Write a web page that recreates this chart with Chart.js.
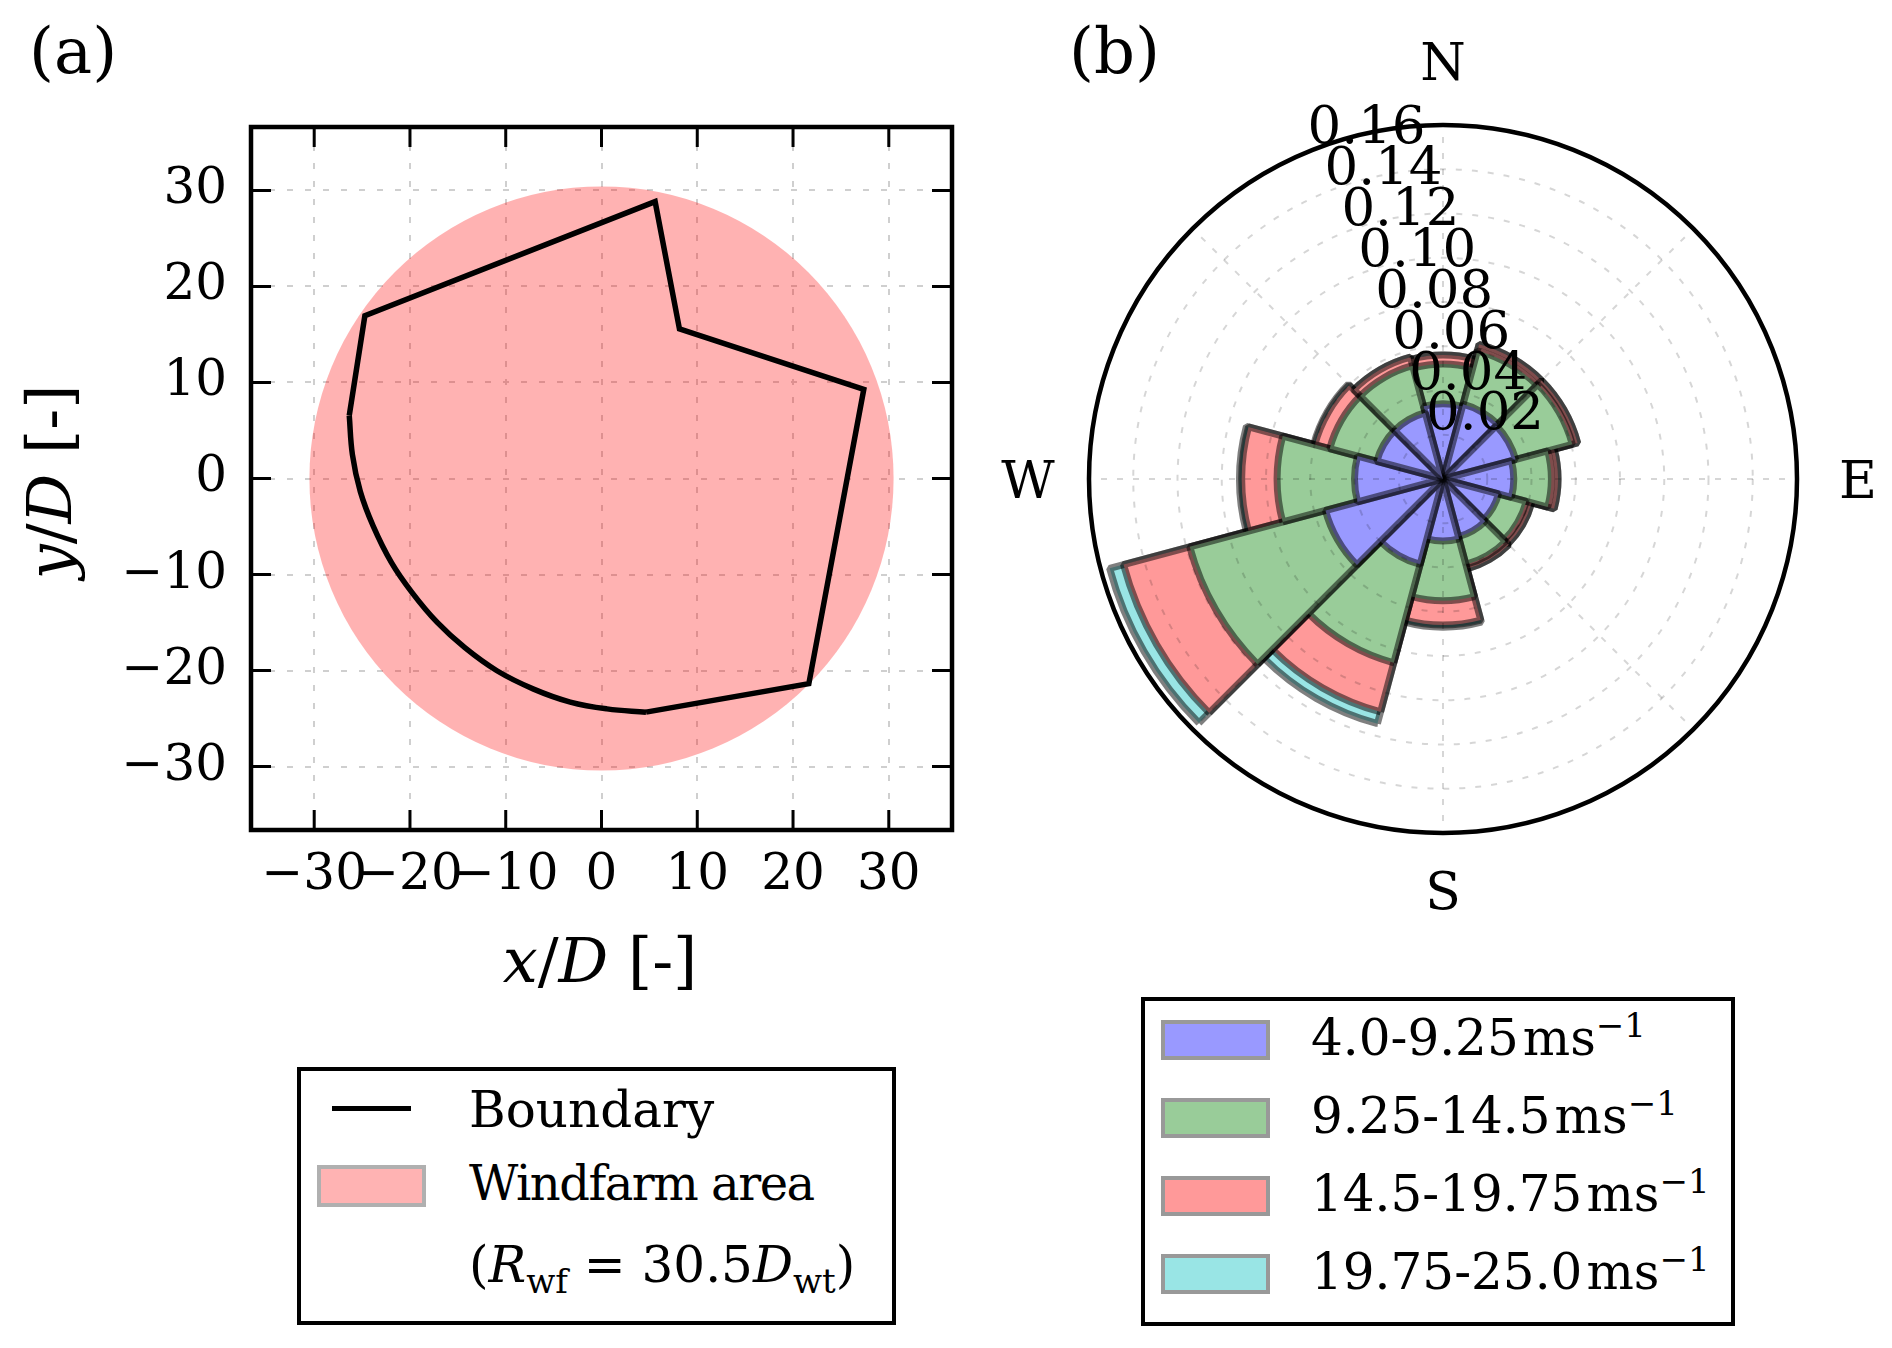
<!DOCTYPE html>
<html>
<head>
<meta charset="utf-8">
<script src="https://cdn.jsdelivr.net/npm/chart.js@4.4.1/dist/chart.umd.min.js"></script>
<style>
  html, body { margin: 0; padding: 0; background: #fff; }
  #page { position: relative; width: 1892px; height: 1348px; overflow: hidden; font-family: 'DejaVu Serif', serif; color: #000; }
  canvas { position: absolute; }
  .txt { position: absolute; white-space: nowrap; line-height: 1; }
  .box { position: absolute; box-sizing: border-box; border: 4.5px solid #000; }
  .patch { position: absolute; box-sizing: border-box; border: 4px solid #999; }
  sub, sup { font-size: 0.68em; line-height: 0; }
</style>
</head>
<body>
<div id="page">
  <div class="txt" style="left:29px;top:19px;font-size:64px">(a)</div>
  <div class="txt" style="left:1069px;top:19px;font-size:64px">(b)</div>

  <canvas id="boundaryChart" width="1000" height="1000" style="left:0;top:0"></canvas>
  <canvas id="roseChart" width="932" height="960" style="left:960px;top:0"></canvas>

  <!-- axis titles of (a) -->
  <div class="txt" style="left:400px;width:400px;text-align:center;top:930px;font-size:62px"><i>x</i>/<i>D</i> [-]</div>
  <div class="txt" style="left:-150px;width:400px;text-align:center;top:451px;font-size:62px;transform:rotate(-90deg)"><i>y</i>/<i>D</i> [-]</div>

  <!-- legend (a) -->
  <div class="box" style="left:297px;top:1067px;width:599px;height:258px"></div>
  <div style="position:absolute;left:332px;top:1106px;width:79px;height:5px;background:#000"></div>
  <div class="txt" style="left:469px;top:1085px;font-size:50px">Boundary</div>
  <div class="patch" style="left:317px;top:1165px;width:109px;height:42px;background:#ffb3b3;border-color:#b0b0b0"></div>
  <div class="txt" style="left:469px;top:1159px;font-size:48px;letter-spacing:-1.5px">Windfarm area</div>
  <div class="txt" style="left:469px;top:1240px;font-size:50px">(<i>R</i><sub>wf</sub> = 30.5<i>D</i><sub>wt</sub>)</div>

  <!-- legend (b) -->
  <div class="box" style="left:1141px;top:997px;width:594px;height:329px"></div>
  <div id="legendB"></div>
</div>

<script>
// ---- (a) windfarm boundary, in rotor diameters ----
const windfarmRadius = 30.5;
const axisLimit = 36.6;
const xTicks = [-30, -20, -10, 0, 10, 20, 30];
const yTicks = [-30, -20, -10, 0, 10, 20, 30];

// straight edges: from the bottom corner round the right side to the west corner
const edgeX = [4.65, 21.65, 27.39, 8.14, 5.6, -24.71, -26.34];
const edgeY = [-24.33, -21.36, 9.29, 15.57, 28.83, 16.95, 6.56];
// curved south-west part of the boundary
const arcX = [4.65, 0.57, -3.26, -7.09, -10.92, -14.27, -17.15, -19.78, -21.93, -23.85, -25.19, -26.01, -26.34];
const arcY = [-24.33, -23.99, -23.28, -21.93, -20.02, -17.62, -14.99, -11.88, -8.76, -4.93, -1.34, 2.49, 6.56];

// ---- (b) wind rose, frequency per sector and speed bin ----
const directions = ['N', 'NNE', 'ENE', 'E', 'ESE', 'SSE', 'S', 'SSW', 'WSW', 'W', 'WNW', 'NNW'];
const freqLow  = [0.034, 0.035, 0.034, 0.032, 0.026, 0.027, 0.028, 0.040, 0.055, 0.040, 0.031, 0.031];
const freqMid  = [0.018, 0.025, 0.0265, 0.017, 0.013, 0.013, 0.027, 0.046, 0.0635, 0.035, 0.022, 0.022];
const freqHigh = [0.004, 0.003, 0.0025, 0.003, 0.0025, 0.002, 0.011, 0.023, 0.031, 0.016, 0.007, 0.004];
const freqTop  = [0, 0, 0, 0, 0, 0, 0.001, 0.0055, 0.0065, 0.001, 0.0005, 0];
const speedBins = ['4.0-9.25', '9.25-14.5', '14.5-19.75', '19.75-25.0'];
const binColors = ['#9999ff', '#99cc99', '#ff9999', '#99e5e5'];
const rTicks = [0.02, 0.04, 0.06, 0.08, 0.10, 0.12, 0.14, 0.16];
const rMax = 0.16;
const compass = ['N', 'E', 'S', 'W'];

Chart.defaults.font.family = "'DejaVu Serif', serif";
Chart.defaults.color = '#000';

const fmt = v => String(v).replace('-', '\u2212');

// frame and inward ticks on all four sides
const axesFrame = {
  id: 'axesFrame',
  afterDraw(chart) {
    const { ctx, chartArea: a, scales: { x, y } } = chart;
    ctx.save();
    ctx.strokeStyle = '#000';
    ctx.lineWidth = 3;
    ctx.beginPath();
    xTicks.forEach(v => {
      const px = x.getPixelForValue(v);
      ctx.moveTo(px, a.bottom); ctx.lineTo(px, a.bottom - 20);
      ctx.moveTo(px, a.top); ctx.lineTo(px, a.top + 20);
    });
    yTicks.forEach(v => {
      const py = y.getPixelForValue(v);
      ctx.moveTo(a.left, py); ctx.lineTo(a.left + 20, py);
      ctx.moveTo(a.right, py); ctx.lineTo(a.right - 20, py);
    });
    ctx.stroke();
    ctx.lineWidth = 4.5;
    ctx.strokeRect(a.left, a.top, a.right - a.left, a.bottom - a.top);
    ctx.restore();
  }
};

const circlePx = c => {
  const s = c.chart.scales.x;
  return s.getPixelForValue(windfarmRadius) - s.getPixelForValue(0);
};

new Chart(document.getElementById('boundaryChart'), {
  type: 'scatter',
  data: {
    datasets: [
      {
        label: 'Boundary',
        data: edgeX.map((x, i) => ({ x, y: edgeY[i] })),
        showLine: true, borderColor: '#000', borderWidth: 5.5, pointRadius: 0, tension: 0
      },
      {
        label: 'Boundary',
        data: arcX.map((x, i) => ({ x, y: arcY[i] })),
        showLine: true, borderColor: '#000', borderWidth: 5.5, pointRadius: 0, tension: 0.4
      },
      {
        label: 'Windfarm area',
        data: [{ x: 0, y: 0 }],
        backgroundColor: 'rgba(255,0,0,0.3)', borderWidth: 0,
        pointRadius: circlePx, pointHoverRadius: circlePx
      }
    ]
  },
  options: {
    responsive: false, animation: false, devicePixelRatio: 1, events: [],
    layout: { padding: { top: 127, right: 48, left: 0, bottom: 0 } },
    plugins: { legend: { display: false }, tooltip: { enabled: false } },
    scales: {
      x: {
        type: 'linear', min: -axisLimit, max: axisLimit,
        afterBuildTicks: s => { s.ticks = xTicks.map(v => ({ value: v })); },
        afterFit: s => { s.height = 170; },
        grid: { color: '#cfcfcf', lineWidth: 2, drawTicks: false },
        border: { display: false, dash: [6, 12] },
        ticks: { padding: 16, font: { size: 50 }, callback: fmt, autoSkip: false, maxRotation: 0 }
      },
      y: {
        type: 'linear', min: -axisLimit, max: axisLimit,
        afterBuildTicks: s => { s.ticks = yTicks.map(v => ({ value: v })); },
        afterFit: s => { s.width = 251; },
        grid: { color: '#cfcfcf', lineWidth: 2, drawTicks: false },
        border: { display: false, dash: [6, 12] },
        ticks: { padding: 24, font: { size: 50 }, callback: fmt, autoSkip: false }
      }
    }
  },
  plugins: [axesFrame]
});

// ---- wind rose ----
// stacked bins: each dataset holds the running total, the smallest one is drawn on top
const bins = [freqLow, freqMid, freqHigh, freqTop];
const cumulative = [];
bins.forEach((b, k) => {
  cumulative.push(b.map((v, i) => (k ? cumulative[k - 1][i] : 0) + v));
});

const roseRef = {
  id: 'roseRef',
  afterDatasetsDraw(chart) {
    const s = chart.scales.r;
    const { ctx } = chart;
    const R = s.getDistanceFromCenterForValue(rMax);
    ctx.save();
    ctx.strokeStyle = 'rgba(0,0,0,0.16)';
    ctx.lineWidth = 2;
    ctx.setLineDash([6, 10]);
    ctx.beginPath();
    for (let k = 0; k < 8; k++) {
      const a = k * Math.PI / 4;
      ctx.moveTo(s.xCenter, s.yCenter);
      ctx.lineTo(s.xCenter + R * Math.sin(a), s.yCenter - R * Math.cos(a));
    }
    ctx.stroke();
    ctx.restore();
  },
  afterDraw(chart) {
    const s = chart.scales.r;
    const { ctx } = chart;
    const R = s.getDistanceFromCenterForValue(rMax);
    ctx.save();
    ctx.strokeStyle = '#000';
    ctx.lineWidth = 4.5;
    ctx.beginPath();
    ctx.arc(s.xCenter, s.yCenter, R, 0, 2 * Math.PI);
    ctx.stroke();

    // radial tick labels along 22.5 deg west of north
    const a = -22.5 * Math.PI / 180;
    ctx.fillStyle = '#000';
    ctx.font = "53px 'DejaVu Serif'";
    ctx.textAlign = 'left';
    ctx.textBaseline = 'bottom';
    rTicks.forEach(v => {
      const r = s.getDistanceFromCenterForValue(v);
      ctx.fillText(v.toFixed(2), s.xCenter + r * Math.sin(a), s.yCenter - r * Math.cos(a) + 4);
    });

    // compass labels
    ctx.font = "52px 'DejaVu Serif'";
    ctx.textAlign = 'center';
    ctx.textBaseline = 'alphabetic';
    const pos = {
      N: [0, -R - 45], E: [R + 61, 19], S: [0, R + 76], W: [-R - 61, 19]
    };
    compass.forEach(c => ctx.fillText(c, s.xCenter + pos[c][0], s.yCenter + pos[c][1]));
    ctx.restore();
  }
};

new Chart(document.getElementById('roseChart'), {
  type: 'polarArea',
  data: {
    labels: directions,
    datasets: cumulative.map((vals, k) => ({
      label: speedBins[k],
      data: vals,
      backgroundColor: binColors[k],
      borderColor: 'rgba(0,0,0,0.5)',
      borderWidth: 7
    }))
  },
  options: {
    responsive: false, animation: false, devicePixelRatio: 1, events: [],
    layout: { padding: { left: 129, right: 95, top: 125, bottom: 126 } },
    plugins: { legend: { display: false }, tooltip: { enabled: false } },
    scales: {
      r: {
        min: 0, max: rMax, startAngle: -15,
        afterBuildTicks: s => { s.ticks = [0].concat(rTicks).map(v => ({ value: v })); },
        ticks: { display: false },
        pointLabels: { display: false },
        angleLines: { display: false },
        grid: {
          circular: true, z: 1, lineWidth: 2,
          color: c => (c.tick && c.tick.value >= rMax - 1e-9) ? 'rgba(0,0,0,0)' : 'rgba(0,0,0,0.16)'
        },
        border: { dash: [6, 10] }
      }
    }
  },
  plugins: [roseRef]
});

// legend (b), one row per speed bin
const legendB = document.getElementById('legendB');
const rowTop = [1020, 1098, 1176, 1254];
speedBins.forEach((lab, k) => {
  const p = document.createElement('div');
  p.className = 'patch';
  p.style.cssText = `left:1161px;top:${rowTop[k]}px;width:109px;height:40px;background:${binColors[k]}`;
  legendB.appendChild(p);
  const t = document.createElement('div');
  t.className = 'txt';
  t.style.cssText = `left:1311px;top:${rowTop[k] - 7}px;font-size:50px`;
  t.innerHTML = `${lab}<span style="margin-left:4px">ms</span><sup>\u22121</sup>`;
  legendB.appendChild(t);
});
</script>
</body>
</html>
